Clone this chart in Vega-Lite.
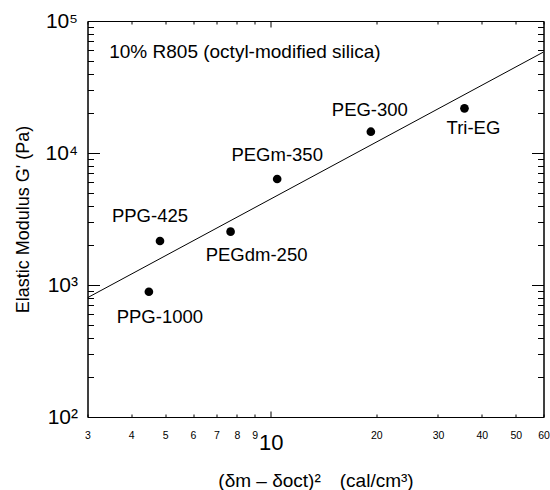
{
  "$schema": "https://vega.github.io/schema/vega-lite/v6.json",
  "width": 456,
  "height": 396,
  "autosize": {"type": "none"},
  "padding": {"left": 87.5, "top": 21, "right": 6.5, "bottom": 73},
  "background": "white",
  "config": {
    "font": "Liberation Sans",
    "view": {"stroke": "black", "strokeWidth": 1},
    "axis": {"domain": true, "domainColor": "black", "domainWidth": 1, "grid": false, "tickColor": "black", "labelColor": "black", "titleColor": "black", "titleFontWeight": "normal", "titleFont": "Liberation Sans", "labelFont": "Liberation Sans"}
  },
  "datasets": {
    "points": [
      {"name": "PPG-1000", "dsq": 4.49, "G": 889},
      {"name": "PPG-425", "dsq": 4.83, "G": 2154},
      {"name": "PEGdm-250", "dsq": 7.68, "G": 2535},
      {"name": "PEGm-350", "dsq": 10.43, "G": 6350},
      {"name": "PEG-300", "dsq": 19.3, "G": 14500},
      {"name": "Tri-EG", "dsq": 35.7, "G": 21800}
    ],
    "fit": [{"dsq": 3, "G": 801}, {"dsq": 60, "G": 58200}],
    "note": [{"text": "10% R805 (octyl-modified silica)"}]
  },
  "layer": [
    {
      "data": {"name": "fit"},
      "mark": {"type": "line", "color": "black", "strokeWidth": 1, "clip": true},
      "encoding": {
        "x": {"field": "dsq", "type": "quantitative",
          "scale": {"type": "log", "domain": [3, 60], "nice": false},
          "axis": {"orient": "bottom", "title": "(δm – δoct)²\u2003(cal/cm³)", "titleFontSize": 19, "titlePadding": 18,
            "values": [3,4,5,6,7,8,9,10,20,30,40,50,60], "format": "d",
            "labelFontSize": {"condition": {"test": "datum.value == 10", "value": 22}, "value": 10.5},
            "labelBaseline": {"condition": {"test": "datum.value == 10", "value": "top"}, "value": "middle"},
            "tickSize": {"condition": {"test": "datum.value == 10", "value": -6}, "value": -3},
            "labelPadding": 21, "labelFlush": false, "labelOverlap": false}},
        "y": {"field": "G", "type": "quantitative",
          "scale": {"type": "log", "domain": [100, 100000], "nice": false},
          "axis": {"orient": "left", "title": "Elastic Modulus G' (Pa)", "titleFontSize": 18, "titlePadding": 13,
            "values": [100,200,300,400,500,600,700,800,900,1000,2000,3000,4000,5000,6000,7000,8000,9000,10000,20000,30000,40000,50000,60000,70000,80000,90000,100000],
            "labelExpr": "datum.value == 100 ? '10²' : datum.value == 1000 ? '10³' : datum.value == 10000 ? '10⁴' : datum.value == 100000 ? '10⁵' : ''",
            "labelFontSize": 21, "labelPadding": 22, "labelFlush": false, "labelOverlap": false,
            "tickSize": {"condition": {"test": "datum.value == 100 || datum.value == 1000 || datum.value == 10000 || datum.value == 100000", "value": -12}, "value": -6}}}
      }
    },
    {
      "data": {"name": "points"},
      "mark": {"type": "circle", "color": "black", "opacity": 1, "size": 75},
      "encoding": {
        "x": {"field": "dsq", "type": "quantitative",
          "scale": {"type": "log", "domain": [3, 60], "nice": false},
          "axis": {"orient": "top", "title": null, "labels": false,
            "values": [3,4,5,6,7,8,9,10,20,30,40,50,60],
            "tickSize": {"condition": {"test": "datum.value == 10", "value": -6}, "value": -3}}},
        "y": {"field": "G", "type": "quantitative",
          "scale": {"type": "log", "domain": [100, 100000], "nice": false},
          "axis": {"orient": "right", "title": null, "labels": false,
            "values": [100,200,300,400,500,600,700,800,900,1000,2000,3000,4000,5000,6000,7000,8000,9000,10000,20000,30000,40000,50000,60000,70000,80000,90000,100000],
            "tickSize": {"condition": {"test": "datum.value == 100 || datum.value == 1000 || datum.value == 10000 || datum.value == 100000", "value": -12}, "value": -6}}}
      }
    },
    {
      "data": {"name": "points"},
      "transform": [{"filter": "datum.name == 'PPG-425'"}],
      "mark": {"type": "text", "fontSize": 18.5, "dx": -10, "dy": -25, "color": "black"},
      "encoding": {"x": {"field": "dsq", "type": "quantitative", "axis": null}, "y": {"field": "G", "type": "quantitative", "axis": null}, "text": {"field": "name"}}
    },
    {
      "data": {"name": "points"},
      "transform": [{"filter": "datum.name == 'PEGm-350'"}],
      "mark": {"type": "text", "fontSize": 18.5, "dx": 0, "dy": -24, "color": "black"},
      "encoding": {"x": {"field": "dsq", "type": "quantitative", "axis": null}, "y": {"field": "G", "type": "quantitative", "axis": null}, "text": {"field": "name"}}
    },
    {
      "data": {"name": "points"},
      "transform": [{"filter": "datum.name == 'PEG-300'"}],
      "mark": {"type": "text", "fontSize": 18.5, "dx": -1, "dy": -22, "color": "black"},
      "encoding": {"x": {"field": "dsq", "type": "quantitative", "axis": null}, "y": {"field": "G", "type": "quantitative", "axis": null}, "text": {"field": "name"}}
    },
    {
      "data": {"name": "points"},
      "transform": [{"filter": "datum.name == 'PPG-1000'"}],
      "mark": {"type": "text", "fontSize": 18.5, "dx": 11, "dy": 25, "color": "black"},
      "encoding": {"x": {"field": "dsq", "type": "quantitative", "axis": null}, "y": {"field": "G", "type": "quantitative", "axis": null}, "text": {"field": "name"}}
    },
    {
      "data": {"name": "points"},
      "transform": [{"filter": "datum.name == 'PEGdm-250'"}],
      "mark": {"type": "text", "fontSize": 18.5, "dx": 26, "dy": 23, "color": "black"},
      "encoding": {"x": {"field": "dsq", "type": "quantitative", "axis": null}, "y": {"field": "G", "type": "quantitative", "axis": null}, "text": {"field": "name"}}
    },
    {
      "data": {"name": "points"},
      "transform": [{"filter": "datum.name == 'Tri-EG'"}],
      "mark": {"type": "text", "fontSize": 18.5, "dx": 9, "dy": 20, "color": "black"},
      "encoding": {"x": {"field": "dsq", "type": "quantitative", "axis": null}, "y": {"field": "G", "type": "quantitative", "axis": null}, "text": {"field": "name"}}
    },
    {
      "data": {"name": "note"},
      "mark": {"type": "text", "fontSize": 19, "align": "left", "baseline": "middle", "color": "black"},
      "encoding": {"x": {"datum": 3.46, "type": "quantitative", "axis": null}, "y": {"datum": 58000, "type": "quantitative", "axis": null}, "text": {"field": "text"}}
    }
  ],
  "resolve": {"axis": {"x": "independent", "y": "independent"}}
}
